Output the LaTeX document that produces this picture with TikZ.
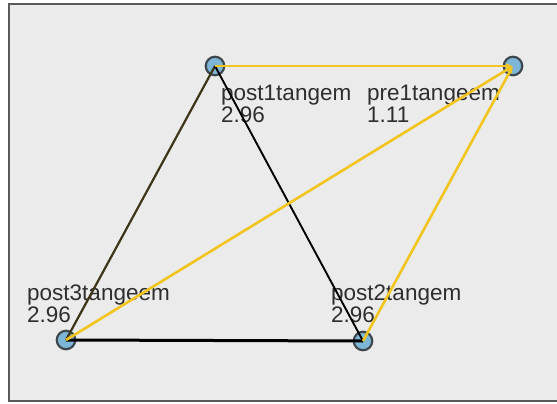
\documentclass[tikz,border=0pt]{standalone}
\usepackage{fontspec}
\setmainfont{Liberation Sans}
\usetikzlibrary{arrows.meta}
\definecolor{bgc}{HTML}{EBEBEB}
\definecolor{framec}{HTML}{5A5A5A}
\definecolor{nodefill}{HTML}{7DB6D6}
\definecolor{nodeline}{HTML}{3E474C}
\definecolor{yel}{HTML}{F2C41E}
\definecolor{olive}{HTML}{3D3518}
\definecolor{txt}{HTML}{2E2E2E}
\begin{document}
\begin{tikzpicture}[x=1pt,y=-1pt,
  vert/.style={circle,draw=nodeline,fill=nodefill,line width=2.2pt,minimum size=18.5pt,inner sep=0pt},
  lbl/.style={anchor=base west,inner sep=0pt,text=txt,align=left,
    font=\fontsize{22.5}{22}\selectfont},
  yedge/.style={draw=yel,line width=2.6pt,-{Latex[length=7pt,width=6pt]}},
  kedge/.style={draw=black,line width=1.9pt},
  kedge2/.style={draw=black,line width=3pt},
  oedge/.style={draw=olive,line width=2.2pt}]
\useasboundingbox (0,0) rectangle (557,404);
\fill[white] (0,0) rectangle (557,404);
\draw[framec,fill=bgc,line width=2pt] (9,4) rectangle (575,401);
% vertices
\node[vert] (post1) at (215,66) {};
\node[vert] (pre1) at (513,66) {};
\node[vert] (post3) at (66,340) {};
\node[vert] (post2) at (363,341) {};
% labels
\node[lbl] (l1) at (221,122) {post1tangem\\2.96};
\node[lbl] (l2) at (367,122) {pre1tangeem\\1.11};
\node[lbl] (l3) at (27,322) {post3tangeem\\2.96};
\node[lbl] (l4) at (331,322) {post2tangem\\2.96};
% edges
\draw[oedge] (post1.center) -- (post3.center);
\draw[kedge] (post1.center) -- (post2.center);
\draw[kedge2] (post3.center) -- (post2.center);
\draw[yedge] (post1.center) -- (pre1.center);
\draw[yedge] (post3.center) -- (pre1.center);
\draw[yedge] (post2.center) -- (pre1.center);
\end{tikzpicture}
\end{document}
